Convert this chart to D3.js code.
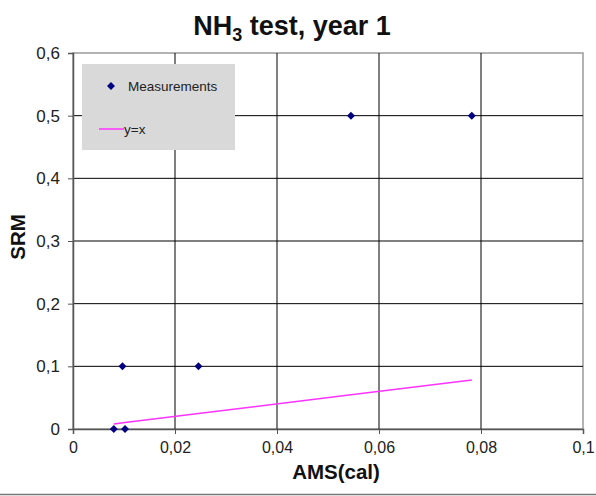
<!DOCTYPE html>
<html><head><meta charset="utf-8">
<script src="https://cdn.jsdelivr.net/npm/d3@7"></script>
<style>body{margin:0;background:#fff}svg{display:block;font-family:"Liberation Sans",Arial,sans-serif}</style>
</head><body>
<script>
const measX = [0.0080, 0.0102, 0.0097, 0.0246, 0.0545, 0.0782];
const measY = [0, 0, 0.1, 0.1, 0.5, 0.5];
const lineX = [0.0095, 0.0080, 0.0102, 0.0246, 0.0545, 0.0782];
const lineY = [0.0095, 0.0080, 0.0102, 0.0246, 0.0545, 0.0782];
const xTicks = [0, 0.02, 0.04, 0.06, 0.08, 0.1];
const yTicks = [0, 0.1, 0.2, 0.3, 0.4, 0.5, 0.6];
const fmt = d => String(d).replace('.', ',');

const W = 596, H = 496;
const svg = d3.select('body').append('svg').attr('width', W).attr('height', H);
const m = {l: 73, r: 583, t: 53, b: 429};
const x = d3.scaleLinear().domain([0, 0.1]).range([m.l, m.r]);
const y = d3.scaleLinear().domain([0, 0.6]).range([m.b, m.t]);

// plot border (gray)
svg.append('rect').attr('x', m.l).attr('y', m.t).attr('width', m.r - m.l).attr('height', m.b - m.t)
  .attr('fill', '#fff').attr('stroke', '#9a9a9a').attr('stroke-width', 1.5);

// gridlines
svg.append('g').selectAll('line').data(yTicks.slice(1, -1)).join('line')
  .attr('x1', m.l).attr('x2', m.r).attr('y1', d => y(d)).attr('y2', d => y(d))
  .attr('stroke', '#000').attr('stroke-width', 1);
svg.append('g').selectAll('line').data(xTicks.slice(1, -1)).join('line')
  .attr('y1', m.t).attr('y2', m.b).attr('x1', d => x(d)).attr('x2', d => x(d))
  .attr('stroke', '#000').attr('stroke-width', 1);

// axes
const xAxis = svg.append('g').attr('transform', `translate(0,${m.b})`)
  .call(d3.axisBottom(x).tickValues(xTicks).tickFormat(fmt).tickSize(5).tickPadding(8));
const yAxis = svg.append('g').attr('transform', `translate(${m.l},0)`)
  .call(d3.axisLeft(y).tickValues(yTicks).tickFormat(fmt).tickSize(5).tickPadding(8));
xAxis.select('.domain').attr('stroke', '#555').attr('stroke-width', 1.5);
yAxis.select('.domain').attr('stroke', '#555').attr('stroke-width', 1.5);
xAxis.selectAll('.tick line').attr('stroke', '#555');
yAxis.selectAll('.tick line').attr('stroke', '#555');
xAxis.selectAll('text').attr('font-size', 16);
yAxis.selectAll('text').attr('font-size', 17).attr('dy', '0.33em');
[xAxis, yAxis].forEach(a => a.selectAll('text').attr('fill', '#222')
  .attr('font-family', '"Liberation Sans",Arial,sans-serif'));

// y=x line
svg.append('path').datum(lineX.map((d, i) => [d, lineY[i]]))
  .attr('d', d3.line().x(d => x(d[0])).y(d => y(d[1])))
  .attr('fill', 'none').attr('stroke', '#ff33ff').attr('stroke-width', 1.5);

// measurements
const diamond = d3.symbol().type(d3.symbolDiamond2).size(40);
svg.append('g').selectAll('path').data(measX.map((d, i) => [d, measY[i]])).join('path')
  .attr('transform', d => `translate(${x(d[0])},${y(d[1])})`)
  .attr('d', diamond).attr('fill', '#000080');

// legend
const lg = svg.append('g');
lg.append('rect').attr('x', 82).attr('y', 64).attr('width', 153).attr('height', 86).attr('fill', '#d9d9d9');
lg.append('path').attr('transform', 'translate(111,86)').attr('d', diamond).attr('fill', '#000080');
lg.append('text').attr('x', 128).attr('y', 91).attr('font-size', 13.5).attr('fill', '#222').text('Measurements');
lg.append('line').attr('x1', 99).attr('x2', 124).attr('y1', 129).attr('y2', 129).attr('stroke', '#ff33ff').attr('stroke-width', 1.5);
lg.append('text').attr('x', 124).attr('y', 134).attr('font-size', 13.5).attr('fill', '#222').text('y=x');

// title
const t = svg.append('text').attr('x', 292).attr('y', 35).attr('text-anchor', 'middle')
  .attr('font-size', 27).attr('font-weight', 'bold').attr('fill', '#111');
t.append('tspan').text('NH');
t.append('tspan').attr('font-size', 18).attr('dy', 6).text('3');
t.append('tspan').attr('dy', -6).text(' test, year 1');

// axis titles
svg.append('text').attr('x', 336).attr('y', 479).attr('text-anchor', 'middle')
  .attr('font-size', 20.5).attr('font-weight', 'bold').attr('fill', '#111').text('AMS(cal)');
svg.append('text').attr('transform', 'translate(25,237) rotate(-90)').attr('text-anchor', 'middle')
  .attr('font-size', 20.5).attr('font-weight', 'bold').attr('fill', '#111').text('SRM');

// bottom frame line
svg.append('line').attr('x1', 0).attr('x2', W).attr('y1', 494.5).attr('y2', 494.5).attr('stroke', '#777').attr('stroke-width', 1.5);
</script>
</body></html>
